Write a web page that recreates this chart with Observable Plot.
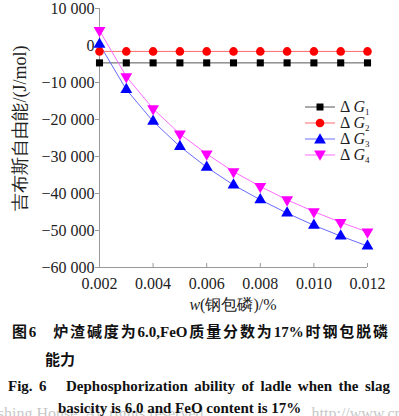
<!DOCTYPE html>
<html><head><meta charset="utf-8">
<script src="https://cdn.jsdelivr.net/npm/d3@7"></script>
<script src="https://cdn.jsdelivr.net/npm/@observablehq/plot@0.6"></script>
<style>
html,body{margin:0;padding:0;background:#fff;}
body{width:399px;height:416px;overflow:hidden;position:relative;font-family:"Liberation Serif",serif;color:#222;}
#chart{position:absolute;left:0;top:0;}
.abs{position:absolute;white-space:nowrap;}
#ylab{font-size:18px;transform:translate(-50%,-50%) rotate(-90deg);left:20px;top:128px;}
#xlab{font-size:16px;transform:translateX(-50%);left:233px;top:295px;}
.cap{font-weight:bold;font-size:15px;line-height:20px;font-family:"Liberation Serif","Noto Sans CJK SC",serif;color:#111;}
#c1{left:12px;top:322px;width:376px;text-align:justify;text-align-last:justify;}
#c2{left:45px;top:350px;}
#c3{left:8px;top:376px;width:382px;text-align:justify;text-align-last:justify;}
#c4{left:58px;top:398px;}
#wm{left:-36px;top:405px;font-size:16px;color:#c8c8c8;}
#legend{position:absolute;left:0;top:0;}
</style></head><body>
<div id="chart"></div>
<div class="abs" id="wm">Publishing House. All rights reserved.&nbsp;&nbsp;&nbsp;&nbsp;&nbsp;&nbsp;&nbsp;&nbsp;&nbsp;&nbsp;&nbsp;&nbsp;&nbsp;&nbsp;&nbsp;&nbsp;&nbsp;&nbsp;&nbsp;&nbsp;&nbsp;&nbsp;&nbsp;&nbsp;&nbsp;&nbsp;http://www.cnki.net</div>
<div class="abs" id="ylab">吉布斯自由能/(J/mol)</div>
<div class="abs" id="xlab"><i>w</i>(钢包磷)/%</div>
<div class="abs cap" id="c1">图6&nbsp;&nbsp;&nbsp;炉渣碱度为6.0,FeO质量分数为17%时钢包脱磷</div>
<div class="abs cap" id="c2">能力</div>
<div class="abs cap" id="c3">Fig. 6&nbsp;&nbsp;&nbsp;Dephosphorization ability of ladle when the slag</div>
<div class="abs cap" id="c4">basicity is 6.0 and FeO content is 17%</div>
<script>
const xs = [0.002,0.003,0.004,0.005,0.006,0.007,0.008,0.009,0.010,0.011,0.012];
const g1 = [-4700,-4700,-4700,-4700,-4700,-4700,-4700,-4700,-4700,-4700,-4700];
const g2 = [-1600,-1600,-1600,-1600,-1600,-1600,-1600,-1600,-1600,-1600,-1600];
const g3 = [300,-11900,-20500,-27300,-32900,-37700,-41700,-45300,-48600,-51500,-54200];
const g4 = [4050,-8400,-17100,-23900,-29300,-34100,-38100,-41700,-44900,-47800,-50400];
const seriesNames = ["1","2","3","4"];
const xTicks = [0.002,0.004,0.006,0.008,0.010,0.012];
const yTicks = [10000,0,-10000,-20000,-30000,-40000,-50000,-60000];

const styles = [
  {vals:g1, line:"#555555", fill:"#000000", symbol:"square", rotate:0, r:4, d3sym:d3.symbolSquare, size:49, rot:0},
  {vals:g2, line:"#ff6a6a", fill:"#ff0000", symbol:"circle", rotate:0, r:4.3, d3sym:d3.symbolCircle, size:58, rot:0},
  {vals:g3, line:"#6a6aff", fill:"#0000ff", symbol:"triangle", rotate:0, r:4.4, d3sym:d3.symbolTriangle, size:60, rot:0},
  {vals:g4, line:"#ff6aff", fill:"#ff00ff", symbol:"triangle", rotate:180, r:4.4, d3sym:d3.symbolTriangle, size:60, rot:180}
];

const loc = d3.formatLocale({decimal:".", thousands:" ", grouping:[3], currency:["",""], minus:"\u2212"});
const fmtY = loc.format(",d");
const fmtX = d3.format(".3f");

const marks = [
  Plot.ruleX([0.002], {stroke:"#999", strokeWidth:1}),
  Plot.ruleY([-60000], {stroke:"#999", strokeWidth:1}),
  Plot.axisY({ticks:yTicks, tickSize:4, tickPadding:1, tickFormat:fmtY, label:null, stroke:"#999", fill:"#222", fontSize:16}),
  Plot.axisX({ticks:xTicks, tickSize:-4, tickPadding:14, tickFormat:fmtX, label:null, stroke:"#999", fill:"#222", fontSize:16})
];
styles.forEach(s => {
  const data = xs.map((x,i)=>({x, y:s.vals[i]}));
  marks.push(Plot.line(data, {x:"x", y:"y", stroke:s.line, strokeWidth:1}));
});
styles.forEach(s => {
  const data = xs.map((x,i)=>({x, y:s.vals[i]}));
  marks.push(Plot.dot(data, {x:"x", y:"y", fill:s.fill, stroke:"none", symbol:s.symbol, r:s.r, rotate:s.rotate}));
});

const chart = Plot.plot({
  width:399, height:310,
  marginLeft:99, marginRight:32, marginTop:8, marginBottom:43,
  x:{domain:[0.002,0.012]},
  y:{domain:[-60000,10000]},
  style:{fontFamily:"Liberation Serif, serif", fontSize:"16px", background:"transparent", overflow:"visible"},
  marks
});
document.getElementById("chart").appendChild(chart);

// legend
const lg = d3.select("body").append("svg").attr("id","legend").attr("width",399).attr("height",310);
const ly = [107,123,139,155];
styles.forEach((s,i) => {
  const g = lg.append("g");
  g.append("line").attr("x1",305).attr("x2",335).attr("y1",ly[i]).attr("y2",ly[i]).attr("stroke",s.line).attr("stroke-width",1);
  g.append("path").attr("d", d3.symbol(s.d3sym, s.size)()).attr("fill", s.fill)
    .attr("transform", `translate(320,${ly[i] + (s.rot ? -1 : (s.d3sym===d3.symbolTriangle?1:0))}) rotate(${s.rot})`);
  const t = g.append("text").attr("x",340).attr("y",ly[i]+5).attr("font-family","Liberation Serif, serif").attr("font-size",16).attr("fill","#222");
  t.append("tspan").text("\u0394 ");
  t.append("tspan").attr("font-style","italic").text("G");
  t.append("tspan").attr("font-size",9).attr("dy",3).text(seriesNames[i]);
});
</script>
</body></html>
